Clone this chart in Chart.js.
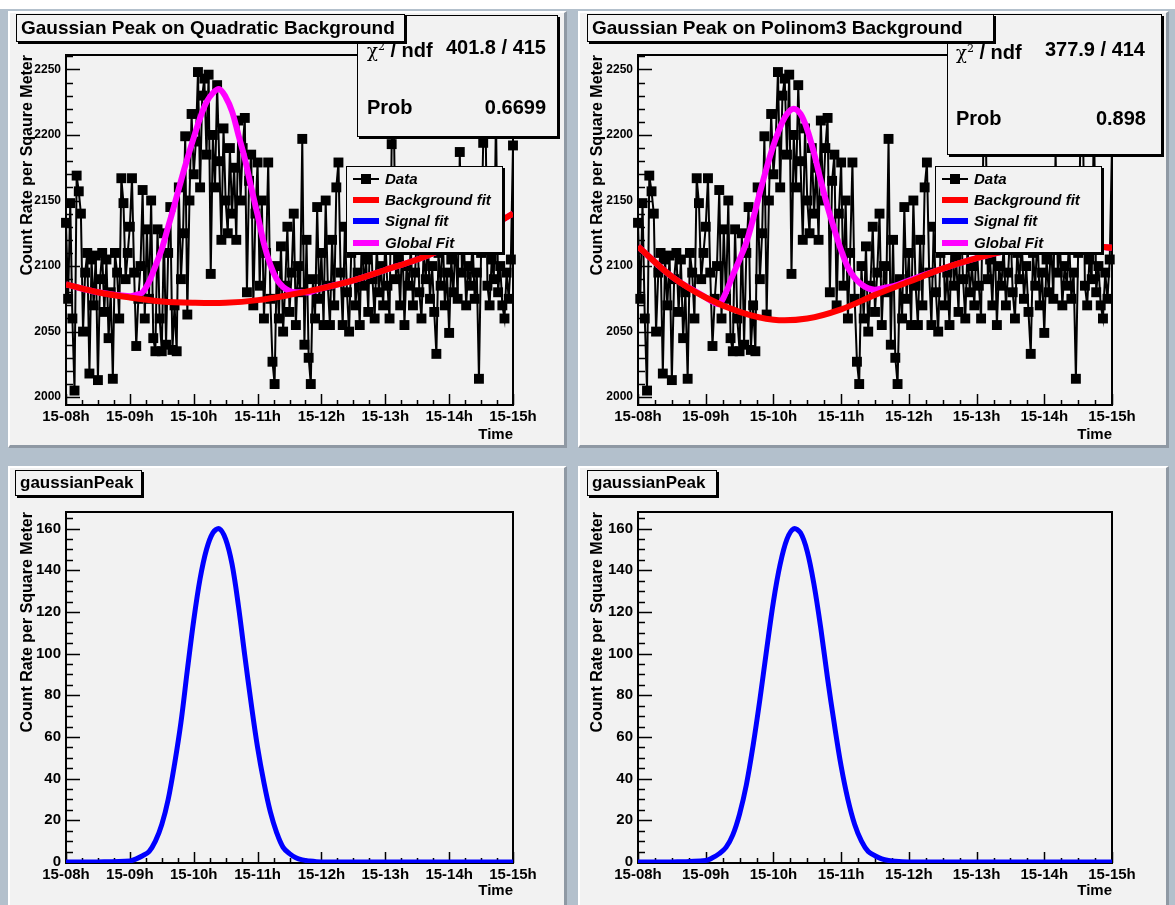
<!DOCTYPE html>
<html>
<head>
<meta charset="utf-8">
<title>Gaussian Peak fits</title>
<script src="https://cdn.jsdelivr.net/npm/chart.js@4.4.1/dist/chart.umd.min.js"></script>
<style>
  html, body { margin: 0; padding: 0; }
  body { width: 1175px; height: 905px; position: relative; overflow: hidden; background: #ffffff;
         font-family: "Liberation Sans", Arial, Helvetica, sans-serif; color: #000; }
  .canvasBg { position: absolute; left: 0; top: 9px; width: 1175px; height: 896px; background: #b3c0cc; }
  .pad { position: absolute; background: #f2f2f2; box-sizing: border-box;
         border-top: 2px solid #ffffff; border-left: 2px solid #ffffff;
         border-right: 3px solid #8f99a4; border-bottom: 3px solid #8f99a4; }
  canvas { position: absolute; }
  .box { position: absolute; background: #f2f2f2; border: 1px solid #000; box-shadow: 2px 2px 0 #000; box-sizing: border-box; }
  .title { font-weight: bold; white-space: nowrap; padding-left: 4px; }
  .row { position: absolute; font-weight: bold; font-size: 20px; line-height: 24px; white-space: nowrap; }
  .chi { font-family: "DejaVu Serif", serif; font-weight: normal; font-size: 18px; }
  .chi sup { font-size: 11px; }
  .item { position: absolute; left: 0; width: 100%; height: 18px; }
  .item .txt { position: absolute; left: 38px; top: 0; font-weight: bold; font-style: italic; font-size: 15px; line-height: 18px; white-space: nowrap; }
  .item .ln { position: absolute; left: 6px; width: 26px; top: 6px; height: 6px; }
  .item .dl { position: absolute; left: 6px; width: 26px; top: 8px; height: 2px; background: #000; }
  .item .dm { position: absolute; left: 14px; width: 10px; top: 4px; height: 10px; background: #000; }
</style>
</head>
<body>
<div class="canvasBg"></div>

<div class="pad" style="left:8px;top:11px;width:559px;height:437px"></div>
<div class="pad" style="left:578px;top:11px;width:591px;height:437px"></div>
<div class="pad" style="left:8px;top:466px;width:559px;height:445px"></div>
<div class="pad" style="left:578px;top:466px;width:591px;height:445px"></div>

<canvas id="c1" width="555" height="433" style="left:10px;top:12px;width:555px;height:433px"></canvas>
<canvas id="c2" width="587" height="433" style="left:580px;top:12px;width:587px;height:433px"></canvas>
<canvas id="c3" width="555" height="437" style="left:10px;top:468px;width:555px;height:437px"></canvas>
<canvas id="c4" width="587" height="437" style="left:580px;top:468px;width:587px;height:437px"></canvas>

<!-- stats boxes -->
<div class="box" style="left:357px;top:15px;width:201px;height:122px">
  <div class="row" style="left:9px;top:19px"><span class="chi">χ<sup>2</sup></span> / ndf</div>
  <div class="row" style="right:11px;top:19px">401.8 / 415</div>
  <div class="row" style="left:9px;top:79px">Prob</div>
  <div class="row" style="right:11px;top:79px">0.6699</div>
</div>
<div class="box" style="left:947px;top:14px;width:215px;height:141px">
  <div class="row" style="left:8px;top:22px"><span class="chi">χ<sup>2</sup></span> / ndf</div>
  <div class="row" style="right:16px;top:22px">377.9 / 414</div>
  <div class="row" style="left:8px;top:91px">Prob</div>
  <div class="row" style="right:15px;top:91px">0.898</div>
</div>

<!-- title boxes -->
<div class="box title" style="left:16px;top:14px;width:389px;height:28px;font-size:19px;line-height:26px">Gaussian Peak on Quadratic Background</div>
<div class="box title" style="left:587px;top:14px;width:407px;height:28px;font-size:19px;line-height:26px">Gaussian Peak on Polinom3 Background</div>
<div class="box title" style="left:15px;top:470px;width:127px;height:26px;font-size:17px;line-height:24px">gaussianPeak</div>
<div class="box title" style="left:587px;top:470px;width:130px;height:26px;font-size:17px;line-height:24px">gaussianPeak</div>

<!-- legends -->
<div class="box" style="left:346px;top:166px;width:157px;height:87px">
  <div class="item" style="top:3px"><span class="dl"></span><span class="dm"></span><span class="txt">Data</span></div>
  <div class="item" style="top:24px"><span class="ln" style="background:#ff0000"></span><span class="txt">Background fit</span></div>
  <div class="item" style="top:45px"><span class="ln" style="background:#0000ff"></span><span class="txt">Signal fit</span></div>
  <div class="item" style="top:67px"><span class="ln" style="background:#ff00ff"></span><span class="txt">Global Fit</span></div>
</div>
<div class="box" style="left:935px;top:166px;width:167px;height:87px">
  <div class="item" style="top:3px"><span class="dl"></span><span class="dm"></span><span class="txt">Data</span></div>
  <div class="item" style="top:24px"><span class="ln" style="background:#ff0000"></span><span class="txt">Background fit</span></div>
  <div class="item" style="top:45px"><span class="ln" style="background:#0000ff"></span><span class="txt">Signal fit</span></div>
  <div class="item" style="top:67px"><span class="ln" style="background:#ff00ff"></span><span class="txt">Global Fit</span></div>
</div>

<script>
// Measured count rate, one sample every 2 minutes from 15-08h to 15-15h
const counts = [
  // 15-08h
  2133, 2075, 2148, 2060, 2005, 2169, 2157, 2140, 2050, 2095,
  2110, 2018, 2105, 2070, 2108, 2013, 2090, 2110, 2065, 2105,
  2045, 2080, 2014, 2110, 2095, 2060, 2167, 2148, 2090, 2110,
  // 15-09h
  2130, 2167, 2095, 2039, 2075, 2100, 2158, 2060, 2128, 2075,
  2150, 2045, 2035, 2128, 2060, 2035, 2125, 2040, 2110, 2145,
  2036, 2070, 2035, 2160, 2090, 2125, 2199, 2063, 2150, 2216,
  // 15-10h
  2170, 2195, 2248, 2160, 2230, 2243, 2185, 2246, 2094, 2200,
  2160, 2238, 2180, 2120, 2205, 2150, 2125, 2190, 2140, 2175,
  2120, 2211, 2150, 2190, 2213, 2080, 2165, 2185, 2070, 2140,
  // 15-11h
  2179, 2085, 2150, 2060, 2110, 2179, 2075, 2027, 2010, 2100,
  2060, 2115, 2050, 2085, 2130, 2065, 2095, 2140, 2055, 2100,
  2080, 2197, 2040, 2120, 2030, 2010, 2090, 2060, 2145, 2075,
  // 15-12h
  2110, 2055, 2150, 2085, 2055, 2120, 2070, 2160, 2179, 2095,
  2055, 2130, 2080, 2050, 2110, 2140, 2070, 2095, 2055, 2125,
  2085, 2105, 2065, 2140, 2090, 2060, 2115, 2080, 2100, 2070,
  // 15-13h
  2120, 2085, 2060, 2193, 2215, 2090, 2105, 2070, 2125, 2055,
  2100, 2085, 2115, 2070, 2095, 2130, 2080, 2060, 2110, 2090,
  2120, 2075, 2100, 2065, 2033, 2110, 2085, 2125, 2070, 2095,
  // 15-14h
  2049, 2105, 2080, 2120, 2075, 2187, 2095, 2115, 2070, 2100,
  2085, 2120, 2075, 2095, 2014, 2110, 2194, 2230, 2085, 2070,
  2105, 2090, 2215, 2080, 2100, 2070, 2060, 2095, 2075, 2105,
  // 15-15h
  2192
];
const sampleHours = counts.map((_, i) => 8 + i / 30);

// Background fits
const bgHours  = [8, 8.5, 9, 9.5, 10, 10.5, 11, 11.5, 12, 12.5, 13, 13.5, 14, 14.5, 15];
const bgQuad   = [2086, 2080, 2076, 2073, 2072, 2072, 2074, 2078, 2083, 2089, 2097, 2105, 2115, 2126, 2140];
const bgPoly3  = [2115, 2092, 2076, 2065, 2059, 2060, 2067, 2078, 2088, 2098, 2106, 2112, 2115, 2116, 2114];

// Global fits and signal peaks (magenta and blue curves)
const fitHours = [8, 8.5,
  9.0, 9.1, 9.2, 9.3, 9.4, 9.5, 9.6, 9.7, 9.8, 9.9,
  10.0, 10.1, 10.2, 10.3, 10.4, 10.5, 10.6, 10.7, 10.8, 10.9,
  11.0, 11.1, 11.2, 11.3, 11.4, 11.5, 11.6, 11.7, 11.8,
  12, 12.5, 13, 13.5, 14, 14.5, 15];
const globalQuad = [2086, 2080,
  2077, 2078, 2080, 2088, 2100, 2113, 2130, 2147, 2165, 2182,
  2198, 2213, 2225, 2232, 2235, 2229, 2218, 2200, 2182, 2160,
  2139, 2117, 2101, 2090, 2084, 2081, 2080, 2080, 2080,
  2083, 2089, 2097, 2105, 2115, 2126, 2140];
const globalPoly3 = [2115, 2092,
  2076, 2073, 2071, 2080, 2093, 2105, 2118, 2136, 2156, 2175,
  2192, 2206, 2216, 2220, 2216, 2204, 2186, 2165, 2145, 2128,
  2112, 2099, 2091, 2086, 2083, 2082, 2083, 2084, 2085,
  2089, 2098, 2106, 2112, 2115, 2116, 2114];
const peakQuad = [0, 0,
  0.5, 1.5, 3, 5, 10, 18, 30, 47, 67, 92,
  116, 136, 150, 158, 160, 155, 143, 123, 99, 76,
  55, 38, 24, 14, 7, 4, 2, 1, 0.5,
  0, 0, 0, 0, 0, 0, 0];
const peakPoly3 = [0, 0,
  0.7, 2, 4, 7, 13, 23, 37, 56, 78, 102,
  125, 143, 155, 160, 158, 149, 133, 112, 88, 66,
  46, 30, 18, 10, 5, 3, 1.5, 0.7, 0.3,
  0, 0, 0, 0, 0, 0, 0];

// Axis ticks
const hourTicks = [8, 9, 10, 11, 12, 13, 14, 15];
const rateTicks = [2000, 2050, 2100, 2150, 2200, 2250];
const peakTicks = [0, 20, 40, 60, 80, 100, 120, 140, 160];

const pts = (xs, ys) => ys.map((v, i) => ({ x: xs[i], y: v }));

function steps(from, to, step) {
  const out = [];
  for (let v = from; v <= to + 1e-9; v += step) out.push(v);
  return out;
}

// ROOT-like frame with ticks pointing into the plot
function rootFrame(yMinorStep) {
  return {
    id: 'rootFrame',
    beforeDatasetsDraw(chart) {
      const { ctx, chartArea: a, scales: { x, y } } = chart;
      ctx.save();
      ctx.strokeStyle = '#000';
      ctx.lineWidth = 1.5;
      ctx.beginPath();
      steps(x.min, x.max, 0.25).forEach(v => {
        const px = Math.round(x.getPixelForValue(v)) + 0.5;
        const len = Math.abs(v - Math.round(v)) < 1e-6 ? 11 : 5;
        ctx.moveTo(px, a.bottom); ctx.lineTo(px, a.bottom - len);
      });
      const y0 = Math.ceil(y.min / yMinorStep) * yMinorStep;
      steps(y0, y.max, yMinorStep).forEach(v => {
        const py = Math.round(y.getPixelForValue(v)) + 0.5;
        const major = y.ticks.some(t => Math.abs(t.value - v) < 1e-6);
        ctx.moveTo(a.left, py); ctx.lineTo(a.left + (major ? 14 : 7), py);
      });
      ctx.stroke();
      ctx.lineWidth = 2;
      ctx.strokeRect(a.left, a.top, a.right - a.left, a.bottom - a.top);
      ctx.restore();
    }
  };
}

function makeChart(id, o) {
  return new Chart(document.getElementById(id), {
    type: 'scatter',
    data: { datasets: o.datasets },
    options: {
      responsive: false,
      animation: false,
      events: [],
      layout: { padding: { left: 0, top: o.top, right: o.right, bottom: 0 } },
      plugins: { legend: { display: false }, tooltip: { enabled: false } },
      scales: {
        x: {
          type: 'linear', min: 8, max: 15,
          afterBuildTicks: s => { s.ticks = hourTicks.map(v => ({ value: v })); },
          afterFit: s => { s.height = o.xHeight; },
          grid: { display: false, drawTicks: false },
          border: { display: false },
          ticks: {
            autoSkip: false, maxRotation: 0, padding: 3, color: '#000',
            font: { family: 'Liberation Sans', weight: 'bold', size: 15 },
            callback: v => '15-' + String(v).padStart(2, '0') + 'h'
          },
          title: {
            display: true, text: 'Time', align: 'end', color: '#000',
            font: { family: 'Liberation Sans', weight: 'bold', size: 15 },
            padding: { top: 0, bottom: o.timePad }
          }
        },
        y: {
          type: 'linear', min: o.yMin, max: o.yMax,
          afterBuildTicks: s => { s.ticks = o.yTicks.map(v => ({ value: v })); },
          afterFit: s => { s.width = o.yWidth; },
          grid: { display: false, drawTicks: false },
          border: { display: false },
          ticks: {
            padding: 5, color: '#000',
            font: { family: 'Liberation Sans', weight: 'bold', size: o.yFont },
            callback: v => String(v)
          },
          title: {
            display: true, text: o.yTitle, align: 'end', color: '#000',
            font: { family: 'Liberation Sans', weight: 'bold', size: 16 },
            padding: { top: 8, bottom: 0 }
          }
        }
      }
    },
    plugins: [rootFrame(o.yMinor)]
  });
}

const line = (label, xs, ys, color, width) => ({
  label, data: pts(xs, ys), showLine: true, borderColor: color, borderWidth: width,
  pointRadius: 0, tension: 0.35, fill: false
});
const dataSet = () => ({
  label: 'Data', data: pts(sampleHours, counts), showLine: true,
  borderColor: '#000', borderWidth: 2, tension: 0,
  pointStyle: 'rect', pointRadius: 7, pointBackgroundColor: '#000', pointBorderWidth: 0,
  clip: 8
});

makeChart('c1', {
  top: 43, right: 52, xHeight: 40, yWidth: 56, timePad: 1,
  yMin: 1994, yMax: 2261, yTicks: rateTicks, yMinor: 10, yFont: 12,
  yTitle: 'Count Rate per Sqaure Meter',
  datasets: [
    line('Background fit', bgHours, bgQuad, '#ff0000', 6),
    line('Global Fit', fitHours, globalQuad, '#ff00ff', 6),
    dataSet()
  ]
});
makeChart('c2', {
  top: 43, right: 55, xHeight: 40, yWidth: 58, timePad: 1,
  yMin: 1994, yMax: 2261, yTicks: rateTicks, yMinor: 10, yFont: 12,
  yTitle: 'Count Rate per Square Meter',
  datasets: [
    line('Background fit', bgHours, bgPoly3, '#ff0000', 6),
    line('Global Fit', fitHours, globalPoly3, '#ff00ff', 6),
    dataSet()
  ]
});
makeChart('c3', {
  top: 44, right: 52, xHeight: 42, yWidth: 56, timePad: 5,
  yMin: -0.5, yMax: 168, yTicks: peakTicks, yMinor: 5, yFont: 15,
  yTitle: 'Count Rate per Square Meter',
  datasets: [ line('gaussianPeak', fitHours, peakQuad, '#0000ff', 5) ]
});
makeChart('c4', {
  top: 44, right: 55, xHeight: 42, yWidth: 58, timePad: 5,
  yMin: -0.5, yMax: 168, yTicks: peakTicks, yMinor: 5, yFont: 15,
  yTitle: 'Count Rate per Square Meter',
  datasets: [ line('gaussianPeak', fitHours, peakPoly3, '#0000ff', 5) ]
});
</script>
</body>
</html>
